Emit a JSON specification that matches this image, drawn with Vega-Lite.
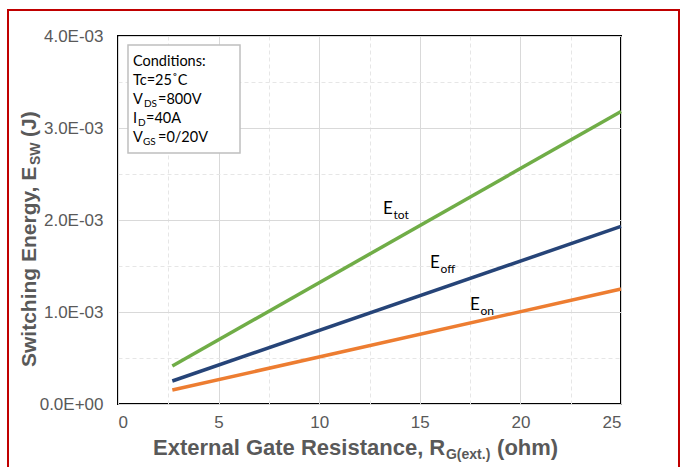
{
  "$schema": "https://vega.github.io/schema/vega-lite/v6.json",
  "width": 503,
  "height": 368,
  "autosize": {"type": "none"},
  "padding": {"left": 118, "top": 36, "right": 59, "bottom": 63},
  "background": "#ffffff",
  "config": {
    "view": {"stroke": "#000000", "strokeWidth": 2},
    "font": "Liberation Sans"
  },
  "datasets": {
    "energy": [
      {"rg": 2.7, "esw": 0.000152, "curve": "Eon"},
      {"rg": 25, "esw": 0.00125, "curve": "Eon"},
      {"rg": 2.7, "esw": 0.00025, "curve": "Eoff"},
      {"rg": 25, "esw": 0.00193, "curve": "Eoff"},
      {"rg": 2.7, "esw": 0.000413, "curve": "Etot"},
      {"rg": 25, "esw": 0.00318, "curve": "Etot"}
    ],
    "frames": [
      {"kind": "outer", "rg": -5.467, "rg2": 27.883, "esw": 0.0042826, "esw2": -0.00077},
      {"kind": "conditions", "rg": 0.497, "rg2": 6.064, "esw": 0.003902, "esw2": 0.002728}
    ],
    "notes": [
      {"kind": "box", "text": "Conditions:", "rg": 0.745, "esw": 0.003674},
      {"kind": "box", "text": "Tc=25˚C", "rg": 0.745, "esw": 0.003467},
      {"kind": "box", "text": "V", "rg": 0.745, "esw": 0.003261},
      {"kind": "box", "text": "=800V", "rg": 1.988, "esw": 0.003261},
      {"kind": "box", "text": "I", "rg": 0.745, "esw": 0.003054},
      {"kind": "box", "text": "=40A", "rg": 1.39, "esw": 0.003054},
      {"kind": "box", "text": "V", "rg": 0.745, "esw": 0.002848},
      {"kind": "box", "text": "=0/20V", "rg": 1.988, "esw": 0.002848},
      {"kind": "boxsub", "text": "DS", "rg": 1.292, "esw": 0.003261},
      {"kind": "boxsub", "text": "D", "rg": 0.994, "esw": 0.003054},
      {"kind": "boxsub", "text": "GS", "rg": 1.243, "esw": 0.002848},
      {"kind": "curve", "text": "E", "rg": 13.17, "esw": 0.002065},
      {"kind": "curve", "text": "E", "rg": 15.51, "esw": 0.001478},
      {"kind": "curve", "text": "E", "rg": 17.5, "esw": 0.001022},
      {"kind": "curvesub", "text": "tot", "rg": 13.69, "esw": 0.002065},
      {"kind": "curvesub", "text": "off", "rg": 16.03, "esw": 0.001478},
      {"kind": "curvesub", "text": "on", "rg": 18.02, "esw": 0.001022},
      {"kind": "xtitle", "text": "External Gate Resistance, R", "rg": 1.74, "esw": -0.000554},
      {"kind": "xtitle", "text": "(ohm)", "rg": 18.84, "esw": -0.000554},
      {"kind": "xtitlesub", "text": "G(ext.)", "rg": 16.3, "esw": -0.000554},
      {"kind": "ytitle", "text": "Switching Energy, E", "rg": -4.076, "esw": 0.000402},
      {"kind": "ytitle", "text": "(J)", "rg": -4.076, "esw": 0.002902},
      {"kind": "ytitlesub", "text": "SW", "rg": -4.076, "esw": 0.002598}
    ]
  },
  "encoding": {
    "x": {
      "field": "rg",
      "type": "quantitative",
      "scale": {"domain": [0, 25], "nice": false, "zero": false},
      "axis": {
        "title": null,
        "values": [0, 2.5, 5, 7.5, 10, 12.5, 15, 17.5, 20, 22.5, 25],
        "labelExpr": "datum.value % 5 == 0 ? datum.label : ''",
        "labelOverlap": false,
        "ticks": false,
        "domain": false,
        "grid": true,
        "gridColor": {"condition": {"test": "datum.value % 5 != 0", "value": "#E6E6E6"}, "value": "#D9D9D9"},
        "gridDash": {"condition": {"test": "datum.value % 5 != 0", "value": [4, 3]}, "value": []},
        "gridWidth": 1,
        "labelFont": "Liberation Sans",
        "labelFontSize": 17,
        "labelColor": "#595959",
        "labelPadding": 10
      }
    },
    "y": {
      "field": "esw",
      "type": "quantitative",
      "scale": {"domain": [0, 0.004], "nice": false},
      "axis": {
        "title": null,
        "values": [0, 0.0005, 0.001, 0.0015, 0.002, 0.0025, 0.003, 0.0035, 0.004],
        "labelExpr": "round(datum.value * 2000) % 2 == 1 ? '' : (datum.value == 0 ? '0.0E+00' : format(datum.value * 1000, '.1f') + 'E-03')",
        "labelOverlap": false,
        "ticks": false,
        "domain": false,
        "grid": true,
        "gridColor": {"condition": {"test": "round(datum.value * 2000) % 2 == 1", "value": "#E6E6E6"}, "value": "#D9D9D9"},
        "gridDash": {"condition": {"test": "round(datum.value * 2000) % 2 == 1", "value": [4, 3]}, "value": []},
        "gridWidth": 1,
        "labelFont": "Liberation Sans",
        "labelFontSize": 17,
        "labelColor": "#595959",
        "labelPadding": 15
      }
    }
  },
  "layer": [
    {
      "data": {"name": "frames"},
      "transform": [{"filter": "datum.kind == 'outer'"}],
      "mark": {"type": "rect", "filled": false, "stroke": "#C00000", "strokeWidth": 2},
      "encoding": {
        "x2": {"field": "rg2"},
        "y2": {"field": "esw2"}
      }
    },
    {
      "data": {"name": "energy"},
      "mark": {"type": "line", "strokeWidth": 3.5, "strokeCap": "butt"},
      "encoding": {
        "color": {
          "field": "curve",
          "type": "nominal",
          "scale": {"domain": ["Etot", "Eoff", "Eon"], "range": ["#70AD47", "#264478", "#ED7D31"]},
          "legend": null
        }
      }
    },
    {
      "data": {"name": "frames"},
      "transform": [{"filter": "datum.kind == 'conditions'"}],
      "mark": {"type": "rect", "fill": "#ffffff", "stroke": "#BFBFBF", "strokeWidth": 1.5},
      "encoding": {
        "x2": {"field": "rg2"},
        "y2": {"field": "esw2"}
      }
    },
    {
      "data": {"name": "notes"},
      "transform": [{"filter": "datum.kind == 'box'"}],
      "mark": {"type": "text", "font": "Lato", "fontSize": 14.5, "color": "#000000", "align": "left", "baseline": "alphabetic"},
      "encoding": {"text": {"field": "text"}}
    },
    {
      "data": {"name": "notes"},
      "transform": [{"filter": "datum.kind == 'boxsub'"}],
      "mark": {"type": "text", "font": "Lato", "fontSize": 10, "color": "#000000", "align": "left", "baseline": "alphabetic", "dy": 3},
      "encoding": {"text": {"field": "text"}}
    },
    {
      "data": {"name": "notes"},
      "transform": [{"filter": "datum.kind == 'curve'"}],
      "mark": {"type": "text", "font": "Lato", "fontSize": 17, "color": "#000000", "align": "left", "baseline": "alphabetic"},
      "encoding": {"text": {"field": "text"}}
    },
    {
      "data": {"name": "notes"},
      "transform": [{"filter": "datum.kind == 'curvesub'"}],
      "mark": {"type": "text", "font": "Lato", "fontSize": 12, "color": "#000000", "align": "left", "baseline": "alphabetic", "dy": 5},
      "encoding": {"text": {"field": "text"}}
    },
    {
      "data": {"name": "notes"},
      "transform": [{"filter": "datum.kind == 'xtitle'"}],
      "mark": {"type": "text", "font": "Liberation Sans", "fontWeight": "bold", "fontSize": 22, "color": "#595959", "align": "left", "baseline": "alphabetic"},
      "encoding": {"text": {"field": "text"}}
    },
    {
      "data": {"name": "notes"},
      "transform": [{"filter": "datum.kind == 'xtitlesub'"}],
      "mark": {"type": "text", "font": "Liberation Sans", "fontWeight": "bold", "fontSize": 14, "color": "#595959", "align": "left", "baseline": "alphabetic", "dy": 4},
      "encoding": {"text": {"field": "text"}}
    },
    {
      "data": {"name": "notes"},
      "transform": [{"filter": "datum.kind == 'ytitle'"}],
      "mark": {"type": "text", "font": "Liberation Sans", "fontWeight": "bold", "fontSize": 21, "color": "#595959", "align": "left", "baseline": "alphabetic", "angle": 270},
      "encoding": {"text": {"field": "text"}}
    },
    {
      "data": {"name": "notes"},
      "transform": [{"filter": "datum.kind == 'ytitlesub'"}],
      "mark": {"type": "text", "font": "Liberation Sans", "fontWeight": "bold", "fontSize": 14, "color": "#595959", "align": "left", "baseline": "alphabetic", "angle": 270, "dy": 4},
      "encoding": {"text": {"field": "text"}}
    }
  ]
}
